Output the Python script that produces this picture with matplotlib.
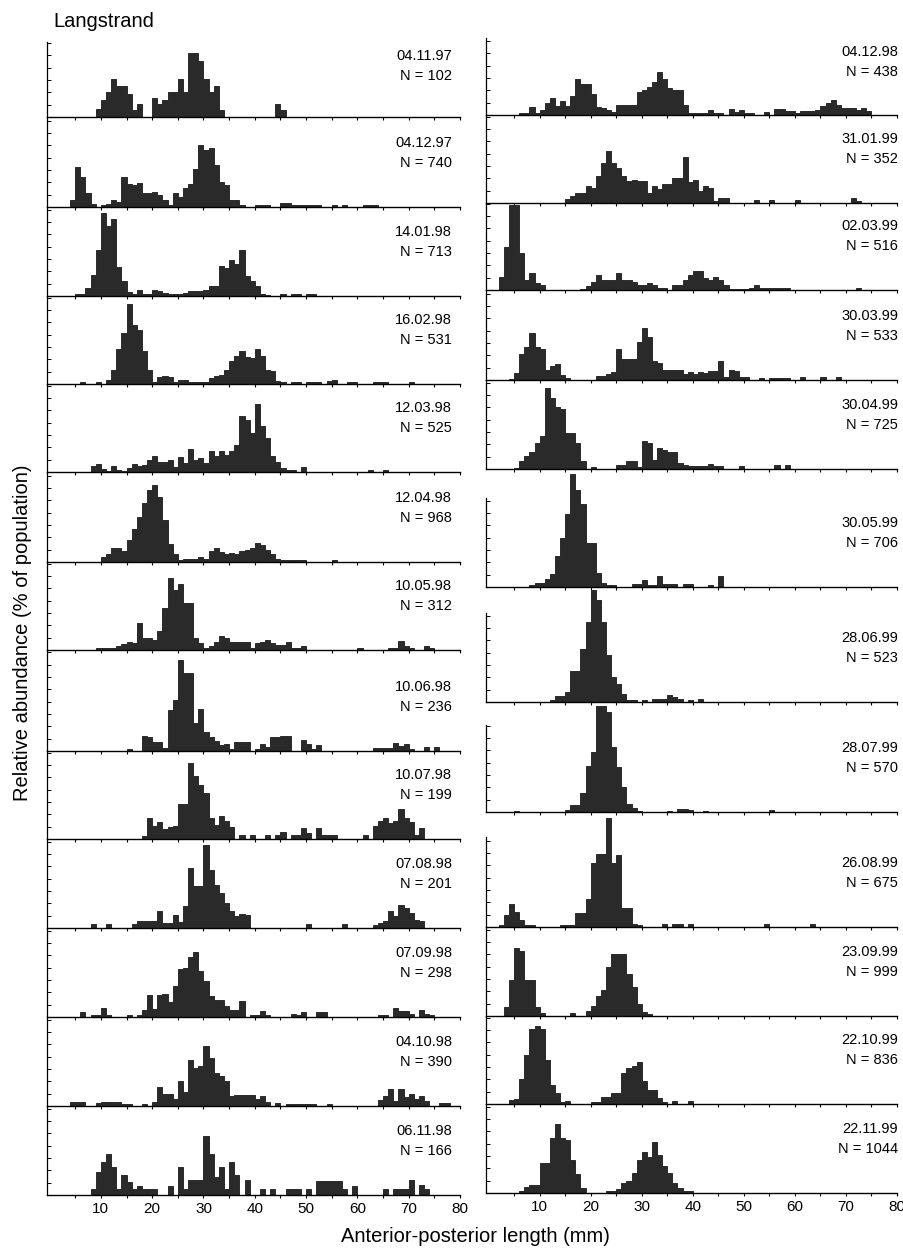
import numpy as np
import matplotlib
matplotlib.use("Agg")
import matplotlib.pyplot as plt

plt.rcParams['font.family'] = ['Liberation Sans', 'DejaVu Sans']

# Length-frequency samples: % of population in 1 mm classes, first class = *_start
left_dates = ["04.11.97", "04.12.97", "14.01.98", "16.02.98", "12.03.98", "12.04.98", "10.05.98",
              "10.06.98", "10.07.98", "07.08.98", "07.09.98", "04.10.98", "06.11.98"]
left_n = [102, 740, 713, 531, 525, 968, 312, 236, 199, 201, 298, 390, 166]
left_start = [9, 4, 5, 6, 8, 10, 9, 15, 18, 8, 6, 4, 8]
left_pct = [
    [1.35, 2.8, 4.05, 6.1, 5.0, 5.0, 3.8, 1.1, 2.05, 0, 0, 3.1, 2.05, 2.8, 4.05, 4.05, 6.1, 4.05,
     10.3, 10.3, 9.1, 6.1, 4.05, 5.1, 1.1] + [0] * 10 + [2.05, 1.1],
    [1.2, 6.5, 4.9, 2.2, 0.5, 0, 0.3, 0.5, 1.2, 0.8,
     4.9, 3.8, 3.6, 3.9, 2.3, 2.3, 2.4, 1.9, 1.2, 0.3,
     2.3, 1.6, 3.0, 3.8, 6.2, 10.0, 9.2, 9.6, 6.8, 4.1,
     3.5, 1.1, 1.1, 0.3, 0, 0, 0.3, 0.3, 0.3, 0,
     0, 0.6, 0.6, 0.3, 0.3, 0.3, 0.3, 0.3, 0.3, 0,
     0, 0.3, 0, 0.3, 0, 0, 0, 0.3, 0.3, 0.3],
    [0.3, 0.3, 1.35, 3.35, 7.4, 13.5, 11.3, 12.4, 4.7, 2.4,
     0.65, 0.4, 1.0, 0.4, 0.3, 1.0, 0.75, 0.5, 0.3, 0.3,
     0.4, 0.5, 0.8, 0.8, 0.8, 0.9, 1.7, 1.7, 4.8, 4.5,
     5.8, 5.2, 7.4, 3.2, 2.5, 1.6, 0.4, 0.2, 0, 0,
     0.3, 0, 0.3, 0.3, 0, 0.4, 0.4],
    [0.3, 0, 0, 0.3, 0, 0.7, 2.3, 5.7, 8.3, 13.0,
     9.5, 8.8, 5.3, 2.3, 0.4, 1.2, 1.35, 1.2, 0.3, 0.7,
     0.7, 0.3, 0.3, 0.3, 0.4, 1.0, 1.35, 1.5, 2.3, 3.8,
     4.6, 5.3, 4.4, 4.2, 5.7, 4.5, 2.3, 2.1, 0.5, 0.3,
     0, 0.3, 0.3, 0, 0.3, 0.3, 0.3, 0, 0.5, 0.7,
     0, 0, 0.3, 0.3, 0, 0, 0, 0.3, 0.3, 0.3,
     0, 0, 0, 0, 0.3],
    [1.0, 1.3, 0.5, 0.2, 1.0, 0.4, 0.2, 0.6, 1.3, 0.9,
     1.2, 2.0, 2.6, 1.7, 1.7, 2.0, 0.8, 2.4, 1.5, 3.7,
     2.0, 2.3, 1.5, 3.35, 2.6, 3.35, 2.8, 3.35, 4.4, 9.1,
     8.5, 6.3, 11.0, 7.4, 5.5, 2.6, 1.7, 0.6, 0.4, 0.4,
     0, 0.8] + [0] * 12 + [0.3, 0, 0, 0.3],
    [0.8, 1.35, 2.2, 2.2, 1.8, 3.5, 5.4, 7.3, 9.5, 11.6,
     12.4, 10.5, 6.8, 2.9, 1.35, 0.4, 0.5, 0.5, 0.5, 0.8,
     0.5, 1.8, 2.2, 1.7, 1.35, 1.5, 1.35, 1.8, 1.9, 2.2,
     3.0, 2.7, 1.9, 1.35, 0.5, 0.4, 0.3, 0.3, 0.3, 0.3] + [0] * 5 + [0.3],
    [0.3, 0.3, 0.3, 0.4, 0.65, 1.0, 1.35, 1.2, 4.3, 2.0,
     2.0, 1.6, 3.0, 6.8, 11.7, 9.7, 10.7, 7.6, 7.6, 2.0,
     1.1, 0.4, 0.65, 1.35, 2.3, 1.9, 1.35, 1.35, 1.35, 1.35,
     0.3, 1.1, 1.35, 1.6, 1.1, 0.8, 0.8, 1.35, 0.4, 0.4,
     0.65] + [0] * 10 + [0.3] + [0] * 5 + [0.4, 0.4, 1.5, 0.65, 0.4, 0, 0, 0.65, 0.4],
    [0.3, 0, 0, 2.4, 2.2, 1.5, 1.5, 0.5, 6.6, 8.3,
     14.8, 12.6, 12.7, 4.5, 6.8, 3.1, 2.3, 1.6, 1.0, 1.1,
     0.4, 1.5, 1.5, 1.5, 0, 0.4, 1.1, 0.6, 2.3, 2.3,
     2.4, 2.4, 0, 0, 1.8, 1.1, 0.3, 1.0] + [0] * 10
    + [0.5, 0.5, 0.5, 0.5, 1.35, 0.8, 1.2, 0.3, 0, 0, 0.7, 0, 0.7],
    [0.5, 3.4, 2.05, 2.7, 1.6, 1.9, 2.05, 5.7, 5.7, 12.3,
     10.2, 8.8, 7.5, 3.4, 2.3, 3.7, 2.9, 1.9, 0, 0.7,
     0, 0.7, 0, 0, 0.7, 0, 0.7, 1.1, 0, 0.7,
     0.7, 1.8, 1.0, 0, 1.8, 0.7, 0.7, 0.7] + [0] * 5
    + [0.7, 0, 2.05, 2.9, 3.4, 2.6, 2.9, 4.8, 3.4, 2.7, 0.7, 1.8],
    [0.65, 0, 0, 0.65, 0, 0, 0, 0, 0.65, 1.1,
     1.1, 1.1, 1.1, 2.7, 0.8, 0.8, 2.05, 0.9, 3.6, 9.7,
     6.8, 6.8, 13.4, 9.4, 7.0, 5.7, 4.05, 2.7, 1.9, 2.2,
     2.05] + [0] * 11 + [0.65] + [0] * 6 + [0.65] + [0] * 5
    + [0.55, 0.8, 1.1, 2.7, 1.9, 3.8, 3.2, 2.4, 1.35, 1.1],
    [0.75, 0, 0.4, 0.4, 1.5, 0.4, 0, 0, 0, 0.4,
     0, 0.4, 1.2, 3.5, 1.3, 3.6, 3.8, 2.5, 5.1, 7.8,
     7.9, 9.8, 10.6, 7.4, 5.8, 3.35, 2.8, 2.8, 1.8, 1.2,
     1.2, 2.6, 0, 0.4, 0.4, 0.9, 0.4, 0, 0, 0,
     0, 0.5, 0.3, 0.75, 0, 0, 0.75, 0.75] + [0] * 10
    + [0.4, 0.4, 0, 1.5, 0.9, 0.9, 0.5, 0, 1.1, 0.5, 0.3],
    [0.65, 0.65, 0.65, 0, 0, 0.5, 0.65, 0.65, 0.65, 0.65,
     0.4, 0.4, 0, 0, 0.4, 0, 0.65, 3.1, 2.0, 2.0,
     1.2, 4.0, 2.3, 7.4, 6.1, 6.5, 9.7, 7.7, 5.4, 4.8,
     4.05, 1.7, 1.8, 1.8, 1.8, 1.8, 1.1, 1.6, 0.65, 0,
     0.5, 0, 0.3, 0.3, 0.3, 0.3, 0.3, 0.3, 0, 0,
     0.4] + [0] * 9 + [0.9, 1.7, 2.8, 0.75, 2.8, 1.5, 1.9, 1.2, 1.6, 0.75, 0, 0, 0.5, 0.5],
    [0.9, 3.8, 5.3, 6.6, 4.6, 0.9, 3.2, 2.05, 0.9, 1.4,
     0.9, 0.9, 0.9, 0, 0, 1.5, 0, 4.6, 0.9, 2.4,
     2.4, 2.4, 9.6, 6.7, 2.9, 4.6, 0.9, 5.3, 3.3, 0,
     2.4, 0, 0, 0.9, 0, 0.9, 0, 0, 0.9, 0.9,
     0.9, 0, 0.9, 0, 2.3, 2.3, 2.3, 2.3, 2.3, 0.9,
     0, 1.5, 0, 0, 0, 0, 0, 0.9, 0, 0.9,
     0.9, 0.9, 2.4, 0, 1.7, 0.9],
]

right_dates = ["04.12.98", "31.01.99", "02.03.99", "30.03.99", "30.04.99", "30.05.99",
               "28.06.99", "28.07.99", "26.08.99", "23.09.99", "22.10.99", "22.11.99"]
right_n = [438, 352, 516, 533, 725, 706, 523, 570, 675, 999, 836, 1044]
right_start = [6, 15, 2, 4, 5, 8, 12, 5, 2, 3, 4, 6]
right_pct = [
    [0.3, 0.3, 1.35, 0.4, 0.8, 2.0, 2.7, 1.5, 2.3, 1.5,
     3.0, 5.8, 5.0, 5.0, 3.35, 1.35, 1.1, 0.8, 0.5, 1.6,
     1.7, 1.7, 1.7, 3.8, 4.05, 4.5, 5.4, 6.9, 5.8, 4.4,
     4.05, 4.05, 1.6, 0.3, 0.4, 0.4, 0.4, 0.8, 0.3, 0.3,
     0, 0.9, 0.5, 0.8, 0.4, 0.4, 0, 0, 0.5, 0,
     0.9, 0.9, 0.65, 0.65, 0.3, 0.65, 0.65, 0.65, 0.8, 1.5,
     1.9, 2.4, 1.7, 1.1, 1.1, 1.1, 0.8, 1.1, 0.65],
    [0.65, 1.1, 1.7, 1.7, 2.7, 2.4, 4.3, 6.5, 8.4, 6.5,
     5.7, 4.4, 3.5, 3.8, 3.5, 3.5, 1.6, 2.7, 2.3, 3.1,
     3.1, 4.05, 4.05, 7.5, 3.35, 3.8, 1.9, 2.8, 2.4, 0.4,
     0.8, 0.8] + [0] * 5 + [0.55, 0, 0, 0.55] + [0] * 4 + [0.55] + [0] * 10 + [0.8, 0.4],
    [2.05, 7.0, 13.8, 13.8, 6.05, 1.6, 2.7, 1.1, 0.8, 0,
     0, 0, 0, 0, 0, 0, 0.1, 0.65, 1.35, 2.4,
     1.7, 1.7, 1.6, 2.8, 1.6, 1.7, 1.35, 0.8, 0.8, 1.1,
     0.8, 0.4, 0.4, 0, 0.8, 0.8, 1.7, 2.4, 3.1, 3.0,
     1.9, 1.6, 2.05, 1.6, 0.8, 0.2, 0.2, 0.2, 0.2, 0.4,
     0.8, 0.4, 0.3, 0.3, 0.3, 0.3, 0.3] + [0] * 13 + [0.3],
    [0.15, 1.2, 4.2, 5.4, 7.6, 5.4, 5.0, 1.6, 2.2, 2.6,
     0.8, 0.3, 0, 0, 0, 0, 0, 0.65, 0.65, 1.0,
     1.35, 5.0, 3.35, 3.35, 3.35, 6.2, 8.4, 7.0, 3.0, 2.8,
     1.7, 1.7, 1.7, 1.7, 1.0, 1.35, 1.0, 1.35, 1.1, 1.5,
     1.5, 3.1, 0.55, 1.7, 1.5, 0.55, 0.55, 0, 0, 0.4,
     0, 0.4, 0.4, 0.4, 0.4, 0, 0, 0.55, 0, 0,
     0, 0.55, 0, 0, 0.55],
    [0.2, 1.25, 2.05, 2.7, 4.2, 5.4, 13.1, 11.5, 10.0, 9.7,
     5.8, 5.8, 4.2, 1.25, 0, 0.4, 0, 0, 0, 0,
     0.7, 0.7, 1.35, 1.35, 0.4, 4.5, 4.2, 1.5, 3.4, 3.1,
     2.8, 2.7, 1.0, 0.7, 0.55, 0.55, 0.55, 0.55, 0.8, 0.55,
     0.55, 0, 0, 0, 0.55, 0, 0, 0, 0, 0,
     0, 0.7, 0, 0.7],
    [0.4, 0.65, 0.65, 1.35, 2.05, 5.1, 8.0, 11.9, 18.3, 15.7,
     13.4, 7.1, 7.1, 2.2, 0.65, 0.3, 0.3, 0, 0, 0,
     0.45, 0.45, 1.1, 0.4, 0.4, 1.75, 0.45, 0.45, 0.45, 0,
     0.45, 0.45, 0, 0, 0, 0.4, 0, 1.8],
    [0.3, 0.9, 0.9, 1.6, 5.0, 5.0, 8.6, 13.0, 18.1, 16.5,
     13.0, 7.6, 4.05, 2.9, 1.35, 0.4, 0.4, 0, 0.4, 0,
     0.55, 0.55, 0.55, 1.1, 0.8, 0.55, 0, 0.4, 0, 0.55],
    [0.15] + [0] * 9 + [0.27, 1.1, 1.1, 3.1, 7.4, 9.7, 17.1, 17.1, 16.2, 10.5,
                        7.3, 4.0, 1.25, 0.7, 0.16] + [0] * 5
    + [0.16, 0, 0.55, 0.55, 0.3, 0, 0, 0.16] + [0] * 12 + [0.3],
    [0.27, 1.9, 3.8, 2.4, 1.1, 0.4, 0.4, 0, 0, 0,
     0, 0, 0.27, 0.27, 0.27, 2.2, 2.3, 4.6, 10.3, 11.9,
     11.9, 17.6, 10.3, 11.6, 3.1, 3.1, 0.55, 0.27, 0, 0,
     0, 0, 0.43, 0, 0.43, 0.43, 0, 0.43] + [0] * 14 + [0.55] + [0] * 8 + [0.55],
    [1.45, 5.9, 11.1, 10.6, 5.8, 5.8, 1.45, 0.5, 0, 0,
     0, 0, 0, 0.5, 0, 0, 0.75, 1.7, 3.2, 4.2,
     7.9, 10.1, 10.1, 10.1, 6.8, 4.7, 2.0, 0.65, 0.27],
    [0.7, 0.8, 4.05, 8.0, 12.1, 12.7, 12.1, 7.1, 3.1, 1.8,
     0.4, 0.55, 0, 0, 0, 0, 0.4, 0.4, 1.1, 1.1,
     1.8, 1.8, 5.1, 5.8, 6.1, 6.8, 3.8, 2.3, 2.2, 0.97,
     0.4, 0, 0.55, 0, 0, 0.55],
    [0.27, 1.0, 1.35, 1.35, 4.8, 4.9, 8.9, 11.2, 8.9, 8.6,
     5.3, 3.1, 0.8, 0, 0, 0, 0, 0.38, 0.38, 0.65,
     1.7, 1.9, 3.2, 5.4, 6.6, 5.9, 8.2, 6.2, 4.4, 3.2,
     1.7, 0.8, 0.38, 0.38],
]

W, H = 904, 1251
PX_PER_PCT = 6.17
BAR_COLOR = '#2a2a2a'

# panel frames in pixels: column x-range, baseline, top of panel, top of y-axis line
left_x = (47, 460)
left_base = [117, 207, 296, 384, 472, 562, 650, 751, 839, 928, 1017, 1106, 1195]
left_top = [42] + left_base[:-1]
left_axis_top = left_top
right_x = (486, 897)
right_base = [115, 203, 290, 380, 469, 587, 702, 812, 927, 1016, 1104, 1193]
right_top = [38] + right_base[:-1]
right_axis_top = [38, 115, 203, 290, 380, 498, 613, 725, 837, 927, 1016, 1104]

fig = plt.figure(figsize=(W / 100, H / 100), dpi=100)


def panel(xr, top, base, axis_top, start, pct, date, n, text_x, last):
    ax = fig.add_axes([xr[0] / W, 1 - base / H, (xr[1] - xr[0]) / W, (base - top) / H])
    ax.patch.set_visible(False)
    mm = np.arange(start, start + len(pct))
    ax.bar(mm, pct, width=1.0, align='edge', color=BAR_COLOR, edgecolor=BAR_COLOR, linewidth=0.7)
    ax.set_xlim(-0.5, 80)
    ax.set_ylim(0, (base - top) / PX_PER_PCT)
    ytop = (base - axis_top) / PX_PER_PCT
    ax.spines['top'].set_visible(False)
    ax.spines['right'].set_visible(False)
    ax.spines['left'].set_bounds(0, ytop)
    ax.spines['left'].set_linewidth(0.9)
    ax.spines['bottom'].set_linewidth(1.0)
    ax.set_yticks(np.arange(2, ytop + 0.01, 2))
    ax.set_yticklabels([])
    ax.tick_params(axis='y', direction='in', length=3, width=0.7)
    ticks = np.arange(5, 81, 5)
    ax.set_xticks(ticks)
    if last:
        ax.set_xticklabels(['' if t % 10 else str(t) for t in ticks])
    else:
        ax.set_xticklabels([])
    ax.tick_params(axis='x', direction='out', length=2.5, width=0.8, labelsize=11, pad=2.5)

    drop = min(64, base - top - 14)
    fig.text(text_x / W, 1 - (base - drop) / H, date, ha='right', va='center', fontsize=10.5)
    fig.text(text_x / W, 1 - (base - drop + 20) / H, f"N = {n}", ha='right', va='center',
             fontsize=10.5)


for i in range(len(left_dates)):
    panel(left_x, left_top[i], left_base[i], left_axis_top[i], left_start[i], left_pct[i],
          left_dates[i], left_n[i], 452, i == len(left_dates) - 1)

for i in range(len(right_dates)):
    panel(right_x, right_top[i], right_base[i], right_axis_top[i], right_start[i], right_pct[i],
          right_dates[i], right_n[i], 898, i == len(right_dates) - 1)

fig.text(53 / W, 1 - 27 / H, "Langstrand", ha='left', va='baseline', fontsize=14.5)
fig.text(23 / W, 1 - 633 / H, "Relative abundance (% of population)", rotation=90,
         ha='center', va='center', fontsize=14.5)
fig.text(475 / W, 1 - 1242 / H, "Anterior-posterior length (mm)", ha='center',
         va='baseline', fontsize=14.5)

plt.savefig("out.png", dpi=100)
